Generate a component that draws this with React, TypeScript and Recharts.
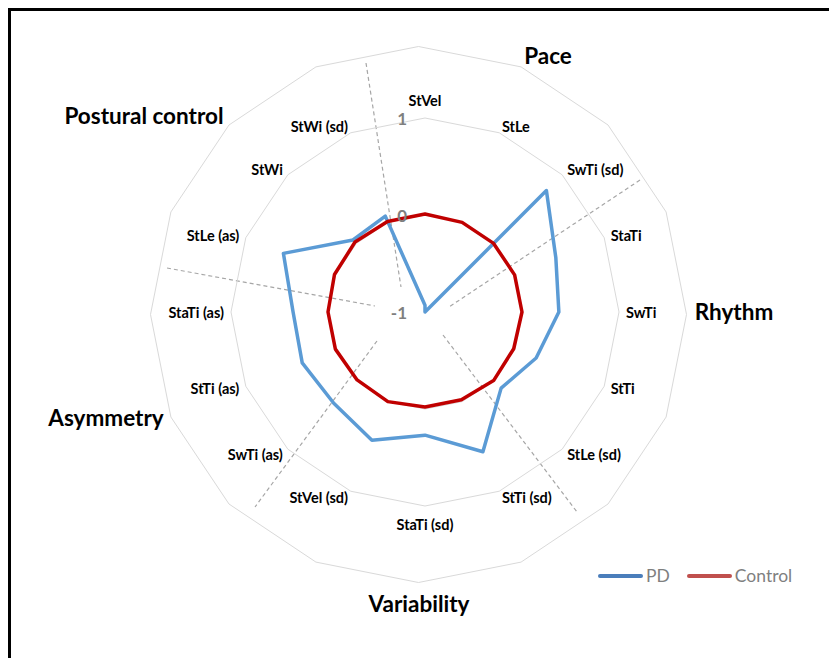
import React from 'react';
import { RadarChart, Radar, PolarGrid, PolarAngleAxis, PolarRadiusAxis, Legend } from 'recharts';

// gait parameters, clockwise from the top
const categories = [
  'StVel', 'StLe', 'SwTi (sd)', 'StaTi', 'SwTi', 'StTi', 'StLe (sd)', 'StTi (sd)',
  'StaTi (sd)', 'StVel (sd)', 'SwTi (as)', 'StTi (as)', 'StaTi (as)', 'StLe (as)', 'StWi', 'StWi (sd)',
];
const pdValues = [-0.93, -1.0, 0.77, 0.46, 0.38, 0.24, 0.11, 0.56, 0.27, 0.43, 0.33, 0.37, 0.36, 0.58, 0.05, 0.07];
const controlValues = [0.01, 0, 0, 0, 0, -0.01, 0, -0.02, -0.02, 0, -0.01, 0, 0, 0.01, 0.02, 0.01];
const radiusTicks = [-1, 0, 1];
const radiusDomain = [-1, 2];
const seriesOrder = ['PD', 'Control'];

const groupLabels = [
  { text: 'Pace', x: 548, y: 55 },
  { text: 'Rhythm', x: 734, y: 311 },
  { text: 'Variability', x: 419, y: 603 },
  { text: 'Asymmetry', x: 106, y: 417 },
  { text: 'Postural control', x: 144, y: 115 },
];

// hand drawn dashed separators between the groups
const dividers = [
  { x1: 366, y1: 63, x2: 401, y2: 287 },
  { x1: 640, y1: 180, x2: 449, y2: 307 },
  { x1: 443, y1: 335, x2: 577, y2: 512 },
  { x1: 377, y1: 341, x2: 255, y2: 507 },
  { x1: 167, y1: 268, x2: 375, y2: 306 },
];

const seriesColors: Record<string, string> = { PD: '#5b9bd5', Control: '#c00000' };
const legendColors: Record<string, string> = { PD: '#4a7ebb', Control: '#c0504d' };

const data = categories.map((name, i) => ({ name, pd: pdValues[i], control: controlValues[i] }));
const ringAngles = categories.map((_, i) => 90 - (i * 360) / categories.length);

const W = 829;
const H = 658;
const CX = 425;
const CY = 312;
const FONT = 'Lato, "Open Sans", sans-serif';

function AngleTick(props: any) {
  const { x, y, payload } = props;
  const a = Math.atan2(CY - y, x - CX);
  const cos = Math.cos(a);
  const sin = Math.sin(a);
  const vertical = Math.abs(cos) < 0.1;
  const r = vertical ? 212 : 201;
  const anchor = vertical ? 'middle' : cos > 0 ? 'start' : 'end';
  return (
    <text
      x={CX + r * cos}
      y={CY - r * sin}
      textAnchor={anchor}
      dominantBaseline="central"
      fontFamily={FONT}
      fontWeight={700}
      fontSize={14.5}
      fill="#000"
    >
      {payload.value}
    </text>
  );
}

function RadiusTick(props: any) {
  const { y, payload } = props;
  return (
    <text x={CX - 18} y={y} textAnchor="end" dominantBaseline="central" fontFamily={FONT} fontWeight={700} fontSize={17} fill="#7f7f7f">
      {payload.value}
    </text>
  );
}

function renderLegend(props: any) {
  const items = [...(props.payload || [])].sort(
    (a: any, b: any) => seriesOrder.indexOf(a.value) - seriesOrder.indexOf(b.value),
  );
  return (
    <div style={{ display: 'flex', alignItems: 'center', fontFamily: FONT, fontSize: 17.5, color: '#7f7f7f' }}>
      {items.map((entry: any, i: number) => (
        <div key={entry.value} style={{ display: 'flex', alignItems: 'center', marginLeft: i === 0 ? 0 : 17 }}>
          <div style={{ width: 45, height: 4, borderRadius: 2, background: legendColors[entry.value] }} />
          <span style={{ marginLeft: 3 }}>{entry.value}</span>
        </div>
      ))}
    </div>
  );
}

export default function App() {
  return (
    <div style={{ position: 'fixed', left: 0, top: 0, width: W, height: H, overflow: 'hidden', background: '#fff' }}>
      <div style={{ position: 'absolute', left: 8, top: 8, width: 900, height: 700, border: '3px solid #000', boxSizing: 'border-box' }} />

      {/* outer ring, slightly off-centre in the original */}
      <div style={{ position: 'absolute', left: 0, top: 0 }}>
        <RadarChart width={W} height={H} data={data} cx={418.5} cy={314.5} outerRadius={268} margin={{ top: 0, right: 0, bottom: 0, left: 0 }}>
          <PolarGrid gridType="polygon" radialLines={false} polarAngles={ringAngles} polarRadius={[268]} stroke="#d9d9d9" />
        </RadarChart>
      </div>

      <svg width={W} height={H} style={{ position: 'absolute', left: 0, top: 0 }}>
        {dividers.map((d, i) => (
          <line key={i} {...d} stroke="#a6a6a6" strokeWidth={1.2} strokeDasharray="4 3" />
        ))}
      </svg>

      <div style={{ position: 'absolute', left: 0, top: 0 }}>
        <RadarChart width={W} height={H} data={data} cx={CX} cy={CY} outerRadius={291} margin={{ top: 0, right: 0, bottom: 0, left: 0 }}>
          <PolarGrid gridType="polygon" radialLines={false} stroke="#d9d9d9" />
          <PolarAngleAxis dataKey="name" tick={AngleTick} axisLine={false} tickLine={false} />
          <PolarRadiusAxis angle={90} domain={radiusDomain} ticks={radiusTicks} axisLine={false} tick={RadiusTick} />
          <Radar name="PD" dataKey="pd" stroke={seriesColors.PD} strokeWidth={3.5} strokeLinejoin="round" fill="none" fillOpacity={0} dot={false} isAnimationActive={false} />
          <Radar name="Control" dataKey="control" stroke={seriesColors.Control} strokeWidth={3.5} strokeLinejoin="round" fill="none" fillOpacity={0} dot={false} isAnimationActive={false} />
          <Legend content={renderLegend} wrapperStyle={{ left: 598, top: 565, width: 'auto' }} />
        </RadarChart>
      </div>

      <svg width={W} height={H} style={{ position: 'absolute', left: 0, top: 0, pointerEvents: 'none' }}>
        {groupLabels.map((g) => (
          <text key={g.text} x={g.x} y={g.y} textAnchor="middle" dominantBaseline="central" fontFamily={FONT} fontWeight={700} fontSize={22.5} fill="#000">
            {g.text}
          </text>
        ))}
      </svg>
    </div>
  );
}
